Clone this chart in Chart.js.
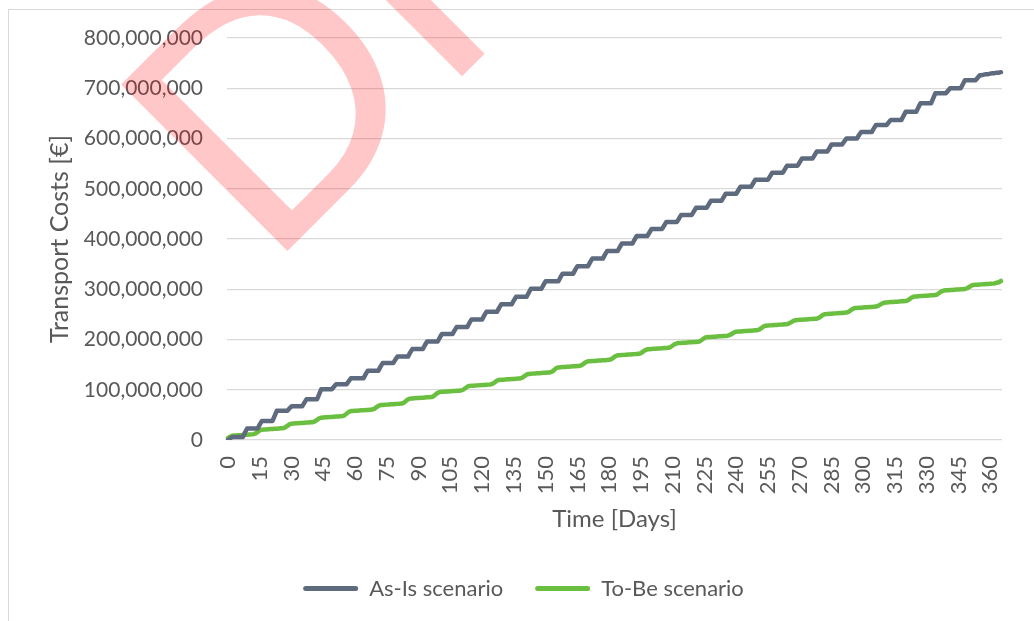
<!DOCTYPE html>
<html>
<head>
<meta charset="utf-8">
<title>Transport Costs</title>
<script src="https://cdn.jsdelivr.net/npm/chart.js@4/dist/chart.umd.min.js"></script>
<style>
  html, body { margin: 0; padding: 0; background: #ffffff; }
  canvas { display: block; }
</style>
</head>
<body>
<canvas id="chart" width="1034" height="621"></canvas>
<script>
// Cumulative transport costs per day, in millions of euros (day 0 .. 365)
const asIsCost = [
  0, 3, 6, 6, 6, 6, 6,
  6, 15, 23, 23, 23, 23, 23,
  23, 31, 38, 38, 38, 38, 38,
  38, 48, 58, 58, 58, 58, 58,
  58, 63, 67, 67, 67, 67, 67,
  67, 74, 81, 81, 81, 81, 81,
  81, 91, 101, 101, 101, 101, 101,
  101, 106, 111, 111, 111, 111, 111,
  111, 117, 123, 123, 123, 123, 123,
  123, 123, 131, 138, 138, 138, 138,
  138, 138, 146, 153, 153, 153, 153,
  153, 153, 160, 166, 166, 166, 166,
  166, 166, 174, 181, 181, 181, 181,
  181, 181, 189, 196, 196, 196, 196,
  196, 196, 204, 211, 211, 211, 211,
  211, 211, 218, 225, 225, 225, 225,
  225, 225, 233, 240, 240, 240, 240,
  240, 240, 248, 255, 255, 255, 255,
  255, 255, 263, 270, 270, 270, 270,
  270, 270, 278, 285, 285, 285, 285,
  285, 285, 293, 301, 301, 301, 301,
  301, 301, 309, 316, 316, 316, 316,
  316, 316, 316, 324, 331, 331, 331,
  331, 331, 331, 339, 346, 346, 346,
  346, 346, 346, 354, 361, 361, 361,
  361, 361, 361, 369, 376, 376, 376,
  376, 376, 376, 384, 391, 391, 391,
  391, 391, 391, 399, 406, 406, 406,
  406, 406, 406, 413, 420, 420, 420,
  420, 420, 420, 427, 434, 434, 434,
  434, 434, 434, 441, 448, 448, 448,
  448, 448, 448, 455, 462, 462, 462,
  462, 462, 462, 469, 476, 476, 476,
  476, 476, 476, 483, 490, 490, 490,
  490, 490, 490, 497, 504, 504, 504,
  504, 504, 504, 511, 518, 518, 518,
  518, 518, 518, 518, 525, 532, 532,
  532, 532, 532, 532, 539, 546, 546,
  546, 546, 546, 546, 553, 560, 560,
  560, 560, 560, 560, 567, 574, 574,
  574, 574, 574, 574, 581, 588, 588,
  588, 588, 588, 588, 594, 600, 600,
  600, 600, 600, 600, 607, 613, 613,
  613, 613, 613, 613, 620, 627, 627,
  627, 627, 627, 627, 632, 637, 637,
  637, 637, 637, 637, 645, 653, 653,
  653, 653, 653, 653, 662, 670, 670,
  670, 670, 670, 670, 680, 690, 690,
  690, 690, 690, 690, 695, 700, 700,
  700, 700, 700, 700, 708, 716, 716,
  716, 716, 716, 716, 721, 726, 726,
  727, 728, 728, 729, 730, 730, 731,
  731, 732
];

const toBeCost = [
  4, 6.5, 8.5, 8.8, 9.1, 9.4, 9.7, 10, 10.3, 10.6, 10.9, 11.2, 11.5, 13,
  16, 19, 20.5, 20.8, 21.1, 21.4, 21.7, 22, 22.3, 22.6, 22.9, 23.2, 23.5, 25,
  28, 31, 32.5, 32.8, 33.1, 33.4, 33.7, 34, 34.3, 34.6, 34.9, 35.2, 35.5, 37,
  40, 43, 44.5, 44.8, 45.1, 45.4, 45.7, 46, 46.3, 46.6, 46.9, 47.2, 47.5, 49,
  52.5, 56, 57.5, 57.8, 58.1, 58.4, 58.7, 59, 59.3, 59.6, 59.9, 60.2, 60.5, 62,
  65, 68, 69.5, 69.8, 70.1, 70.4, 70.7, 71, 71.3, 71.6, 71.9, 72.2, 72.5, 74,
  77.5, 81, 82.5, 82.8, 83.1, 83.4, 83.7, 84, 84.3, 84.6, 84.9, 85.2, 85.5, 87,
  90.5, 94, 95.5, 95.8, 96.1, 96.4, 96.7, 97, 97.3, 97.6, 97.9, 98.2, 98.5, 100,
  103, 106, 107.5, 107.8, 108.1, 108.4, 108.7, 109, 109.3, 109.6, 109.9, 110.2, 110.5, 112,
  115, 118, 119.5, 119.8, 120.1, 120.4, 120.7, 121, 121.3, 121.6, 121.9, 122.2, 122.5, 124,
  127, 130, 131.5, 131.8, 132.1, 132.4, 132.7, 133, 133.3, 133.6, 133.9, 134.2, 134.5, 136,
  139.5, 143, 144.5, 144.8, 145.1, 145.4, 145.7, 146, 146.3, 146.6, 146.9, 147.2, 147.5, 149,
  152, 155, 156.5, 156.8, 157.1, 157.4, 157.7, 158, 158.3, 158.6, 158.9, 159.2, 159.5, 161,
  164, 167, 168.5, 168.8, 169.1, 169.4, 169.7, 170, 170.3, 170.6, 170.9, 171.2, 171.5, 173,
  176, 179, 180.5, 180.8, 181.1, 181.4, 181.7, 182, 182.3, 182.6, 182.9, 183.2, 183.5, 185,
  188, 191, 192.5, 192.8, 193.1, 193.4, 193.7, 194, 194.3, 194.6, 194.9, 195.2, 195.5, 197,
  200, 203, 204.5, 204.8, 205.1, 205.4, 205.7, 206, 206.3, 206.6, 206.9, 207.2, 207.5, 209,
  211.5, 214, 215.5, 215.8, 216.1, 216.4, 216.7, 217, 217.3, 217.6, 217.9, 218.2, 218.5, 220,
  223, 226, 227.5, 227.8, 228.1, 228.4, 228.7, 229, 229.3, 229.6, 229.9, 230.2, 230.5, 232,
  234.5, 237, 238.5, 238.8, 239.1, 239.4, 239.7, 240, 240.3, 240.6, 240.9, 241.2, 241.5, 243,
  246, 249, 250.5, 250.8, 251.1, 251.4, 251.7, 252, 252.3, 252.6, 252.9, 253.2, 253.5, 255,
  258, 261, 262.5, 262.8, 263.1, 263.4, 263.7, 264, 264.3, 264.6, 264.9, 265.2, 265.5, 267,
  269.5, 272, 273.5, 273.8, 274.1, 274.4, 274.7, 275, 275.3, 275.6, 275.9, 276.2, 276.5, 278,
  281, 284, 285.5, 285.8, 286.1, 286.4, 286.7, 287, 287.3, 287.6, 287.9, 288.2, 288.5, 290,
  293, 296, 297.5, 297.8, 298.1, 298.4, 298.7, 299, 299.3, 299.6, 299.9, 300.2, 300.5, 302,
  304.5, 307, 308.5, 308.8, 309.1, 309.4, 309.7, 310, 310.3, 310.6, 310.9, 311.2, 311.5, 313,
  314, 316.5
];

// Day numbers along the time axis
const days = asIsCost.map((_, i) => String(i));
const dayLabelStep = 15;

// Cost axis ticks (millions of euros)
const costTicks = [0, 100, 200, 300, 400, 500, 600, 700, 800];

const seriesNames = ['As-Is scenario', 'To-Be scenario'];
const seriesColors = ['#5e6a7d', '#6abf40'];
const textColor = '#595959';

Chart.defaults.font.family = 'Lato, "Liberation Sans", sans-serif';
Chart.defaults.color = textColor;

// White page with the light frame of the chart object
const framePlugin = {
  id: 'frame',
  beforeDraw(chart) {
    const ctx = chart.ctx;
    ctx.save();
    ctx.fillStyle = '#ffffff';
    ctx.fillRect(0, 0, chart.width, chart.height);
    ctx.strokeStyle = '#d9d9d9';
    ctx.lineWidth = 1;
    ctx.strokeRect(8.5, 9.5, chart.width + 20, chart.height + 20);
    ctx.restore();
  }
};

// Translucent "DRAFT" stamp across the upper left
const stampPlugin = {
  id: 'stamp',
  afterDraw(chart) {
    const ctx = chart.ctx;
    ctx.save();
    ctx.translate(267.6, 270.8);
    ctx.rotate(-Math.PI / 4);
    ctx.font = '342px "Liberation Sans", Arial, sans-serif';
    ctx.textBaseline = 'alphabetic';
    ctx.textAlign = 'left';
    ctx.fillStyle = 'rgba(255, 0, 0, 0.22)';
    ctx.fillText('DRAFT', 0, 0);
    ctx.restore();
  }
};

new Chart(document.getElementById('chart'), {
  type: 'line',
  data: {
    labels: days,
    datasets: [
      {
        label: seriesNames[0],
        data: asIsCost,
        borderColor: seriesColors[0],
        backgroundColor: seriesColors[0],
        borderWidth: 4.5,
        borderCapStyle: 'round',
        borderJoinStyle: 'round',
        pointRadius: 0,
        tension: 0,
        fill: false
      },
      {
        label: seriesNames[1],
        data: toBeCost,
        borderColor: seriesColors[1],
        backgroundColor: seriesColors[1],
        borderWidth: 4.5,
        borderCapStyle: 'round',
        borderJoinStyle: 'round',
        pointRadius: 0,
        tension: 0,
        fill: false
      }
    ]
  },
  options: {
    responsive: false,
    animation: false,
    events: [],
    layout: { padding: { left: 45, right: 32, top: 38, bottom: 11.5 } },
    plugins: {
      tooltip: { enabled: false },
      legend: {
        position: 'bottom',
        align: 'center',
        labels: {
          boxWidth: 55,
          boxHeight: 5,
          padding: 32,
          useBorderRadius: true,
          color: textColor,
          font: { size: 22 },
          generateLabels(chart) {
            return chart.data.datasets.map((ds, i) => ({
              text: ds.label,
              fillStyle: ds.borderColor,
              strokeStyle: ds.borderColor,
              lineWidth: 0,
              borderRadius: 2.5,
              fontColor: textColor,
              hidden: false,
              datasetIndex: i
            }));
          }
        }
      }
    },
    scales: {
      x: {
        type: 'category',
        offset: true,
        grid: { display: false, drawTicks: false },
        border: { display: false },
        ticks: {
          autoSkip: false,
          minRotation: 90,
          maxRotation: 90,
          padding: 16,
          color: textColor,
          font: { size: 22 },
          callback(value, index) {
            return index % dayLabelStep === 0 ? this.getLabelForValue(value) : '';
          }
        },
        title: {
          display: true,
          text: 'Time [Days]',
          color: textColor,
          font: { size: 24 },
          padding: { top: 0, bottom: 12.1 }
        },
        afterFit(scale) {
          scale.height = 105.5;
          scale.paddingLeft = 0;
          scale.paddingRight = 0;
        }
      },
      y: {
        min: costTicks[0],
        max: costTicks[costTicks.length - 1],
        afterBuildTicks(scale) { scale.ticks = costTicks.map(v => ({ value: v })); },
        grid: { color: '#d9d9d9', lineWidth: 1.3, drawTicks: false },
        border: { display: false },
        ticks: {
          padding: 24,
          color: textColor,
          font: { size: 21 },
          callback(value) { return (value * 1e6).toLocaleString('en-US'); }
        },
        title: {
          display: true,
          text: 'Transport Costs [€]',
          color: textColor,
          font: { size: 25 },
          padding: { top: 0, bottom: 0 }
        },
        afterFit(scale) { scale.width = 182; }
      }
    }
  },
  plugins: [framePlugin, stampPlugin]
});
</script>
</body>
</html>
